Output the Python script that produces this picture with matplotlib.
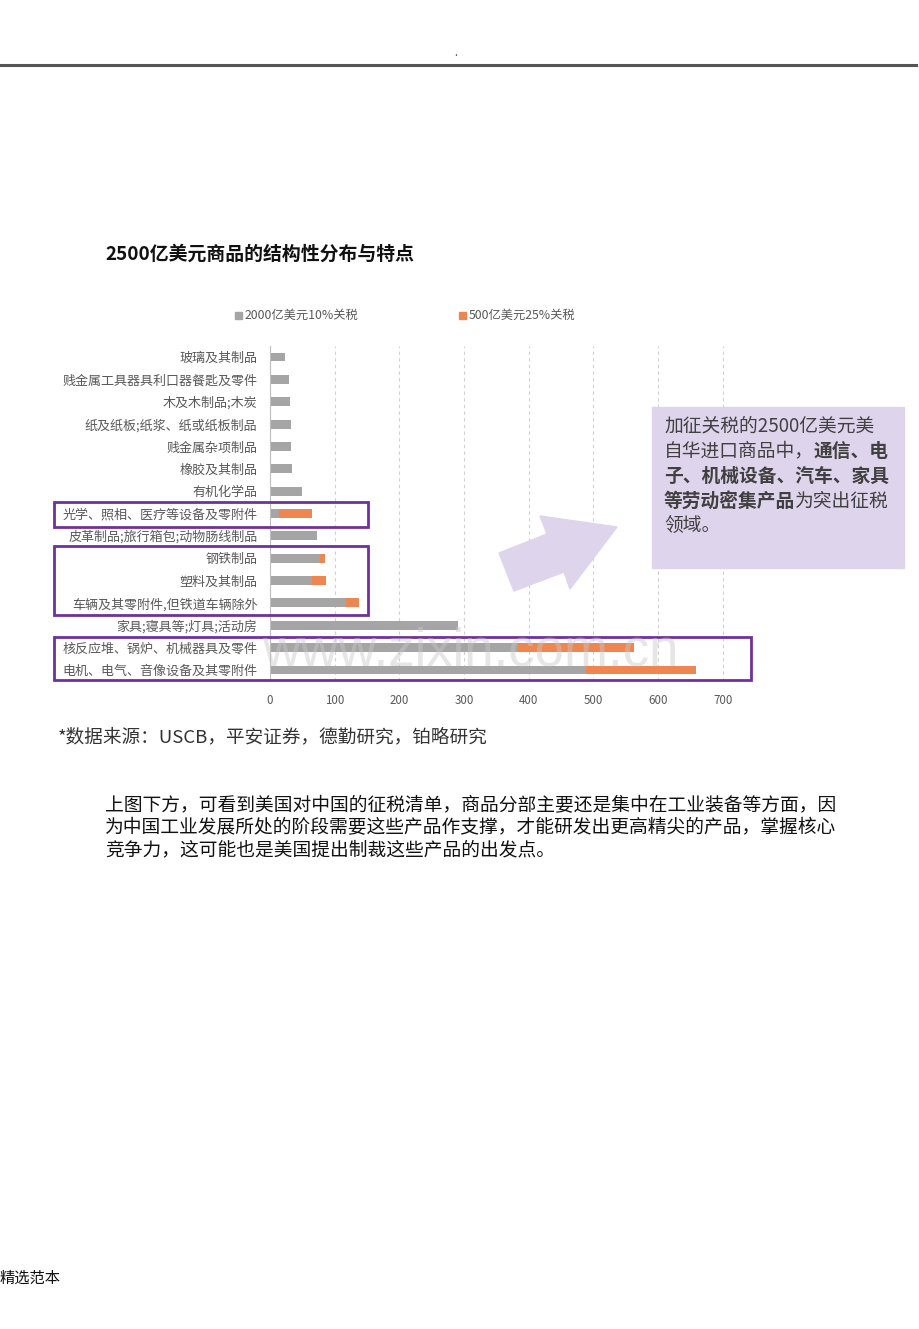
import matplotlib
matplotlib.use('Agg')
import matplotlib.pyplot as plt
from matplotlib.patches import Rectangle, Polygon

plt.rcParams['font.family'] = ['Noto Sans CJK SC', 'DejaVu Sans']

categories = ['玻璃及其制品', '贱金属工具器具利口器餐匙及零件', '木及木制品;木炭',
              '纸及纸板;纸浆、纸或纸板制品', '贱金属杂项制品', '橡胶及其制品', '有机化学品',
              '光学、照相、医疗等设备及零附件', '皮革制品;旅行箱包;动物肠线制品', '钢铁制品',
              '塑料及其制品', '车辆及其零附件,但铁道车辆除外', '家具;寝具等;灯具;活动房',
              '核反应堆、锅炉、机械器具及零件', '电机、电气、音像设备及其零附件']
tariff_10 = [23.7, 29.4, 30.9, 32.5, 32.5, 33.5, 49.0, 13.4, 73.2, 77.3, 64.4, 117.0, 291.0, 384.0, 488.0]
tariff_25 = [0, 0, 0, 0, 0, 0, 0, 51.0, 0, 8.3, 21.6, 20.6, 0, 178.0, 171.0]
xticks = [0, 100, 200, 300, 400, 500, 600, 700]
legend_labels = ['2000亿美元10%关税', '500亿美元25%关税']

GRAY = '#A5A5A5'
ORANGE = '#EE8652'
PURPLE = '#7030A0'
LAV = '#DED4EB'

W, H = 920, 1329
fig = plt.figure(figsize=(9.2, 13.29), dpi=100)
def fx(x): return x / W
def fy(y): return 1 - y / H

# header line
fig.add_artist(plt.Line2D([fx(0), fx(916)], [fy(65), fy(65)], color='#555555', lw=2.2))
fig.text(fx(456), fy(53), '.', fontsize=7, color='#333333', ha='center', va='center')

# title
fig.text(fx(105), fy(254), '2500亿美元商品的结构性分布与特点', fontsize=13.6, fontweight='bold',
         color='#111111', ha='left', va='center')

# axes
top, bot = 345.8, 681.2
ax = fig.add_axes([fx(270), fy(bot), 456 / W, (bot - top) / H])
ypos = list(range(len(categories)))
b1 = ax.barh(ypos, tariff_10, height=0.4, color=GRAY, zorder=2)
b2 = ax.barh(ypos, tariff_25, left=tariff_10, height=0.4, color=ORANGE, zorder=2)
ax.set_ylim(len(categories) - 0.5, -0.5)
ax.set_xlim(0, 705)
ax.set_xticks(xticks)
ax.xaxis.grid(True, linestyle=(0, (3, 3)), color='#D0D0D0', lw=0.8)
ax.set_axisbelow(True)
for s in ['top', 'right', 'bottom']:
    ax.spines[s].set_visible(False)
ax.spines['left'].set_color('#BFBFBF')
ax.tick_params(axis='both', length=0)
ax.tick_params(axis='x', labelsize=8.3, labelcolor='#595959', pad=9)
ax.set_yticks(ypos)
ax.set_yticklabels(categories, fontsize=9.4, color='#595959')
ax.tick_params(axis='y', pad=9)
ax.patch.set_alpha(0)

# legend (manual)
fig.add_artist(Rectangle((fx(235), fy(319)), 7 / W, 7 / H, color=GRAY, transform=fig.transFigure))
fig.text(fx(245), fy(315), legend_labels[0], fontsize=8.8, color='#595959', va='center')
fig.add_artist(Rectangle((fx(459), fy(319)), 7 / W, 7 / H, color=ORANGE, transform=fig.transFigure))
fig.text(fx(469), fy(315), legend_labels[1], fontsize=8.8, color='#595959', va='center')

# purple highlight boxes
def pbox(x0, y0, x1, y1):
    fig.add_artist(Rectangle((fx(x0), fy(y1)), (x1 - x0) / W, (y1 - y0) / H, fill=False,
                             edgecolor=PURPLE, lw=2.0, transform=fig.transFigure, zorder=5))
pbox(54, 502, 368, 527)
pbox(54, 546, 368, 615)
pbox(54, 637, 751, 680)

# arrow
pts = [(499, 553), (547, 534), (540, 516), (617, 527), (570, 589), (564, 572), (514, 591)]
fig.add_artist(Polygon([(fx(x), fy(y)) for x, y in pts], closed=True, color=LAV,
                       transform=fig.transFigure, zorder=4))

# callout box
fig.add_artist(Rectangle((fx(652), fy(568)), (904 - 652) / W, (568 - 407) / H, color=LAV,
                         transform=fig.transFigure, zorder=4))
lines = [[('加征关税的2500亿美元美', False)],
         [('自华进口商品中，', False), ('通信、电', True)],
         [('子、机械设备、汽车、家具', True)],
         [('等劳动密集产品', True), ('为突出征税', False)],
         [('领域。', False)]]
fig.canvas.draw()
r = fig.canvas.get_renderer()
for i, segs in enumerate(lines):
    x = 664
    yy = 426 + i * 25
    for txt, bold in segs:
        t = fig.text(fx(x), fy(yy), txt, fontsize=13.5, color='#404040',
                     fontweight='bold' if bold else 'normal', ha='left', va='center', zorder=6)
        bb = t.get_window_extent(renderer=r)
        x += bb.width

# watermark
fig.text(fx(262), fy(665), 'www.zixin.com.cn', fontsize=38, color='#C8C8C8', alpha=0.45,
         ha='left', va='baseline', family='Liberation Sans', zorder=7)

# source
fig.text(fx(58), fy(737), '*数据来源：USCB，平安证券，德勤研究，铂略研究', fontsize=13.4,
         color='#333333', ha='left', va='center')

para = ['上图下方，可看到美国对中国的征税清单，商品分部主要还是集中在工业装备等方面，因',
        '为中国工业发展所处的阶段需要这些产品作支撑，才能研发出更高精尖的产品，掌握核心',
        '竞争力，这可能也是美国提出制裁这些产品的出发点。']
for i, l in enumerate(para):
    fig.text(fx(105), fy(806 + 22 * i), l, fontsize=13.5, color='#111111', ha='left', va='center')

fig.text(fx(0), fy(1278), '精选范本', fontsize=11, color='#111111', ha='left', va='center')

fig.savefig('out.png', dpi=100)
